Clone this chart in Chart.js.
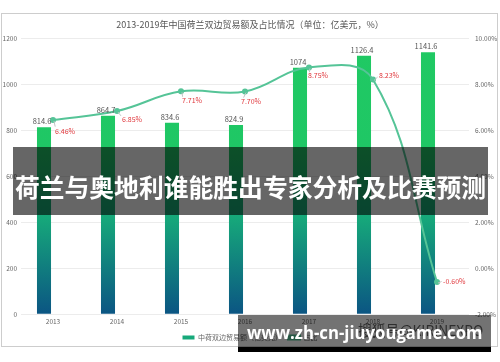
<!DOCTYPE html>
<html>
<head>
<meta charset="utf-8">
<script src="https://cdn.jsdelivr.net/npm/chart.js@4.4.1/dist/chart.umd.min.js"></script>
<style>
  html, body { margin: 0; padding: 0; background: #fff; }
  body { width: 500px; height: 362px; position: relative; overflow: hidden; font-family: "Noto Sans CJK SC", sans-serif; }
  #frame { position: absolute; left: 1px; top: 13px; width: 495px; height: 332px; border: 1.5px solid #cdcdcd; }
  #chart { position: absolute; left: 0; top: 0; }
  #banner { position: absolute; left: 13px; top: 147px; width: 475px; height: 68px; background: rgba(0,0,0,0.6);
            color: #fff; font-weight: bold; font-size: 24.8px; line-height: 68px; text-align: center; white-space: nowrap;
            padding-top: 5px; box-sizing: border-box; }
  #mark { position: absolute; left: 358px; top: 319px; font-size: 15px; color: rgba(40,40,40,0.7); white-space: nowrap;
          transform: scaleX(0.92); transform-origin: 0 50%; }
  #site { position: absolute; left: 238px; top: 315px; width: 253px; height: 32px; background: rgba(0,0,0,0.55); }
  #site span { position: absolute; left: 9px; top: 2px; color: #fff; font-family: "Open Sans", "DejaVu Sans", sans-serif;
               font-weight: bold; font-size: 18px; line-height: 30px; white-space: nowrap;
               transform: scaleX(0.93); transform-origin: 0 50%; }
  #strip { position: absolute; left: 238px; top: 347px; width: 253px; height: 5px; background: #000; }
</style>
</head>
<body>
<div id="frame"></div>
<canvas id="chart" width="500" height="362"></canvas>
<div id="banner">荷兰与奥地利谁能胜出专家分析及比赛预测</div>
<div id="mark">搜狐号@KIRINEXPO</div>
<div id="site"><span>www.zh-cn-jiuyougame.com</span></div>
<div id="strip"></div>
<script>
const years = ['2013', '2014', '2015', '2016', '2017', '2018', '2019'];
const tradeValues = [814.6, 864.7, 834.6, 824.9, 1074, 1126.4, 1141.6];
const shareValues = [6.46, 6.85, 7.71, 7.70, 8.75, 8.23, -0.60];
const tradeTicks = [0, 1200, 200];
const shareTicks = [-2, 10, 2];

const FONT = '"Noto Sans CJK SC", sans-serif';

// label offsets for the percentage labels (dx, dy from the point)
const pctOffsets = [[2, 11], [5, 8], [1, 9], [-4, 10], [-1, 8], [6, -4], [6, -1]];

const valueLabels = {
    id: 'valueLabels',
    afterDatasetsDraw(chart) {
        const ctx = chart.ctx;
        ctx.save();
        ctx.font = '7.5px ' + FONT;
        ctx.fillStyle = '#555';
        ctx.textAlign = 'center';
        ctx.textBaseline = 'bottom';
        chart.getDatasetMeta(0).data.forEach((bar, i) => {
            ctx.fillText(String(tradeValues[i]), bar.x - 2, bar.y - 2);
        });

        ctx.font = '7px ' + FONT;
        ctx.textAlign = 'left';
        ctx.textBaseline = 'middle';
        chart.getDatasetMeta(2).data.forEach((pt, i) => {
            const [dx, dy] = pctOffsets[i];
            ctx.strokeStyle = '#c4c4c4';
            ctx.lineWidth = 1;
            ctx.beginPath();
            ctx.moveTo(pt.x + 1, pt.y + 1);
            ctx.lineTo(pt.x + dx * 0.6 + 1, pt.y + dy * 0.6);
            ctx.stroke();
            ctx.fillStyle = '#e0393e';
            ctx.fillText(shareValues[i].toFixed(2) + '%', pt.x + dx, pt.y + dy);
        });
        ctx.restore();
    }
};

function barFill(c) {
    const chart = c.chart;
    const a = chart.chartArea;
    if (!a) return '#1fc863';
    const g = chart.ctx.createLinearGradient(0, a.top, 0, a.bottom);
    g.addColorStop(0, '#20c963');
    g.addColorStop(0.4, '#1fc765');
    g.addColorStop(0.65, '#16a87a');
    g.addColorStop(1, '#0b5583');
    return g;
}

const ctx = document.getElementById('chart').getContext('2d');
const chart = new Chart(ctx, {
    type: 'bar',
    data: {
        labels: years,
        datasets: [{
            label: '中荷双边贸易额（亿美元）',
            data: tradeValues,
            backgroundColor: barFill,
            yAxisID: 'y',
            order: 1,
            categoryPercentage: 0.5625,
            barPercentage: 0.78
        }, {
            label: '',
            data: years.map(() => null),
            yAxisID: 'y',
            order: 2,
            categoryPercentage: 0.5625,
            barPercentage: 0.78
        }, {
            type: 'line',
            label: '占比',
            data: shareValues,
            yAxisID: 'y1',
            borderColor: '#55c497',
            backgroundColor: '#55c497',
            borderWidth: 2,
            pointRadius: 3,
            pointBackgroundColor: '#55c497',
            pointBorderWidth: 0,
            tension: 0.4,
            order: 0
        }]
    },
    options: {
        responsive: false,
        animation: false,
        devicePixelRatio: 1,
        layout: { padding: { left: 0, right: 0, top: 0, bottom: 11 } },
        plugins: {
            tooltip: { enabled: false },
            title: {
                display: true,
                text: '2013-2019年中国荷兰双边贸易额及占比情况（单位：亿美元，%）',
                color: '#555',
                font: { family: FONT, size: 9, weight: 'normal' },
                padding: { top: 19, bottom: 9 }
            },
            legend: {
                position: 'bottom',
                labels: {
                    color: '#666',
                    font: { family: FONT, size: 7 },
                    boxWidth: 12,
                    boxHeight: 4,
                    padding: 6,
                    filter: item => item.text !== '',
                    sort: (a, b) => a.datasetIndex - b.datasetIndex,
                    generateLabels(chart) {
                        const items = Chart.defaults.plugins.legend.labels.generateLabels(chart);
                        items.forEach(it => {
                            if (it.datasetIndex === 0) { it.fillStyle = '#17a97a'; it.strokeStyle = '#17a97a'; it.lineWidth = 0; }
                        });
                        return items;
                    }
                }
            }
        },
        scales: {
            x: {
                grid: { display: false, drawTicks: false },
                border: { display: false },
                ticks: { color: '#666', font: { family: FONT, size: 6.5 }, padding: 3 }
            },
            y: {
                position: 'left',
                min: tradeTicks[0], max: tradeTicks[1],
                ticks: { stepSize: tradeTicks[2], color: '#666', font: { family: FONT, size: 6.5 }, padding: 4,
                         callback: v => String(v) },
                grid: { color: '#ececec', drawTicks: false },
                border: { display: false },
                afterFit: s => { s.width = 21; }
            },
            y1: {
                position: 'right',
                min: shareTicks[0], max: shareTicks[1],
                ticks: { stepSize: shareTicks[2], color: '#666', font: { family: FONT, size: 6.5 }, padding: 6,
                         callback: v => v.toFixed(2) + '%' },
                grid: { display: false, drawTicks: false },
                border: { display: false },
                afterFit: s => { s.width = 31; }
            }
        }
    },
    plugins: [valueLabels]
});
</script>
</body>
</html>
